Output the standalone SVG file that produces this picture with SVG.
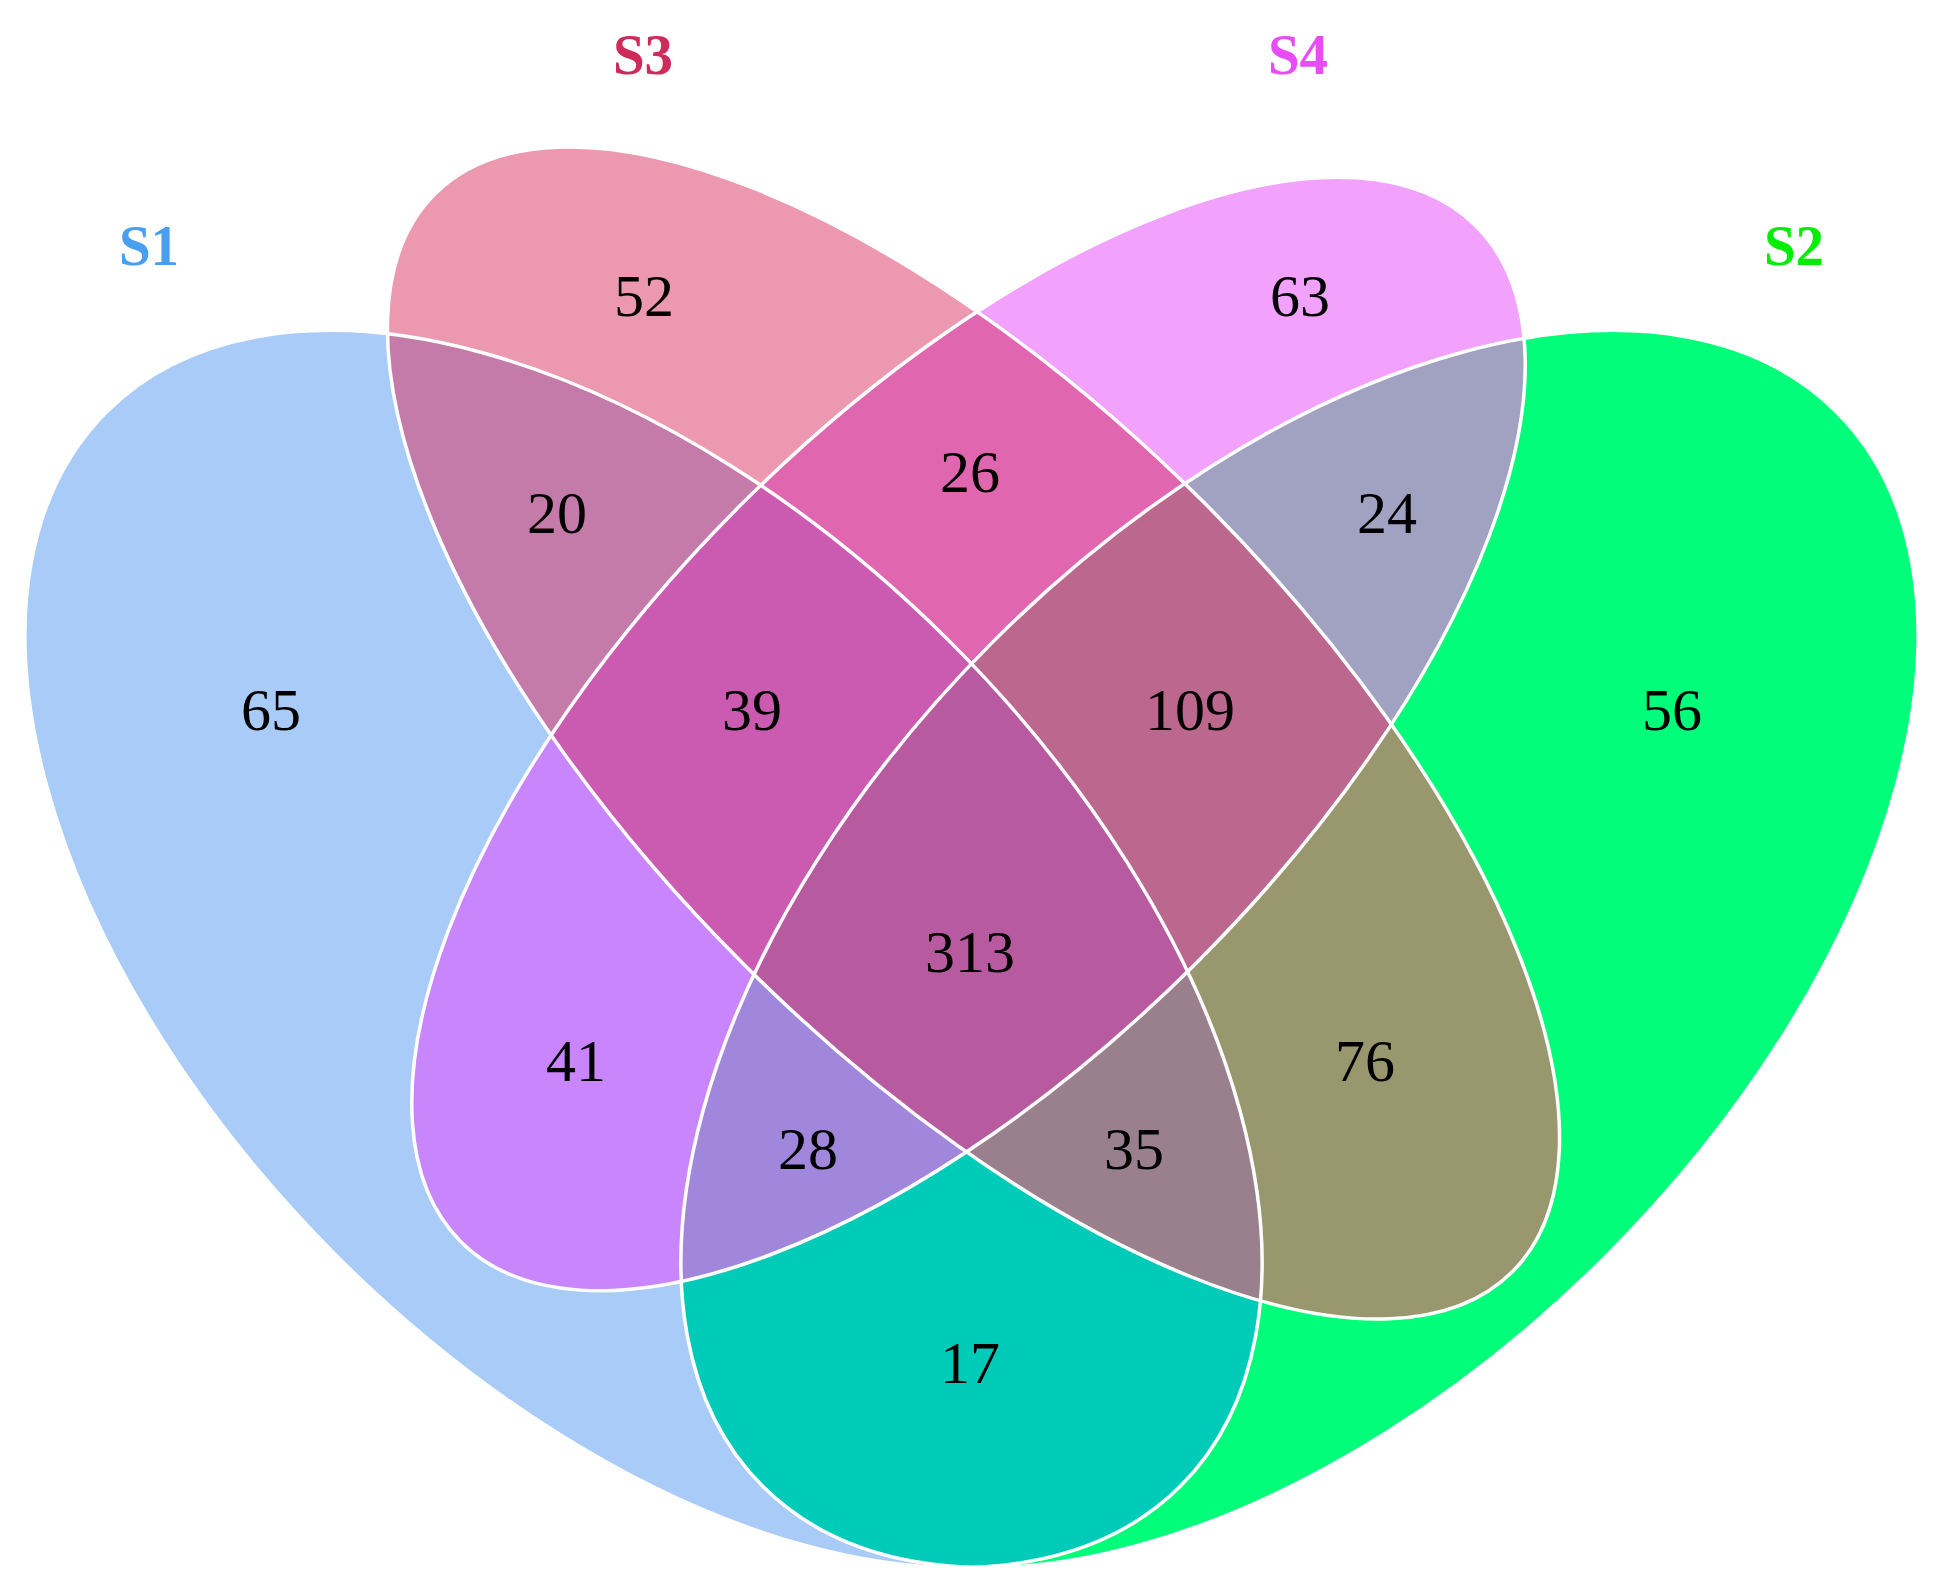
<svg xmlns="http://www.w3.org/2000/svg" xmlns:xlink="http://www.w3.org/1999/xlink" width="1938" height="1589" viewBox="0 0 1938 1589">
<style>
.num{font-family:"Liberation Serif","Times New Roman",serif;font-size:60px;fill:#000;text-anchor:middle}
.ttl{font-family:"Liberation Serif","Times New Roman",serif;font-size:57px;font-weight:bold;text-anchor:middle}
.edge{fill:none;stroke:#fff;stroke-width:3.5}
</style>
<defs>
<ellipse id="e1" cx="643.5" cy="949" rx="759.5" ry="434" transform="rotate(45 643.5 949)"/>
<ellipse id="e2" cx="1299.5" cy="949" rx="759.5" ry="434" transform="rotate(-45 1299.5 949)"/>
<ellipse id="e3" cx="973.5" cy="733" rx="762" ry="326" transform="rotate(45 973.5 733)"/>
<ellipse id="e4" cx="968.5" cy="734" rx="718" ry="323" transform="rotate(-45 968.5 734)"/>
<clipPath id="c1"><use xlink:href="#e1"/></clipPath>
<clipPath id="c2"><use xlink:href="#e2"/></clipPath>
<clipPath id="c3"><use xlink:href="#e3"/></clipPath>
<clipPath id="c4"><use xlink:href="#e4"/></clipPath>
</defs>
<rect width="1938" height="1589" fill="#fff"/>
<g id="regions">
<g id="r-S1"><use xlink:href="#e1" fill="#A9CBF7"/></g>
<g id="r-S2"><use xlink:href="#e2" fill="#00FE7A"/></g>
<g id="r-S3"><use xlink:href="#e3" fill="#EC98B0"/></g>
<g id="r-S4"><use xlink:href="#e4" fill="#F2A1FC"/></g>
<g id="r-S1S3" clip-path="url(#c3)"><use xlink:href="#e1" fill="#C47BAA"/></g>
<g id="r-S1S4" clip-path="url(#c4)"><use xlink:href="#e1" fill="#C986FC"/></g>
<g id="r-S1S2" clip-path="url(#c2)"><use xlink:href="#e1" fill="#00CBB9"/></g>
<g id="r-S3S4" clip-path="url(#c4)"><use xlink:href="#e3" fill="#E066B0"/></g>
<g id="r-S2S4" clip-path="url(#c4)"><use xlink:href="#e2" fill="#A1A1C1"/></g>
<g id="r-S2S3" clip-path="url(#c3)"><use xlink:href="#e2" fill="#99976E"/></g>
<g id="r-S1S3S4" clip-path="url(#c3)"><g clip-path="url(#c4)"><use xlink:href="#e1" fill="#CB5BB0"/></g></g>
<g id="r-S2S3S4" clip-path="url(#c3)"><g clip-path="url(#c4)"><use xlink:href="#e2" fill="#BC678E"/></g></g>
<g id="r-S1S2S4" clip-path="url(#c2)"><g clip-path="url(#c4)"><use xlink:href="#e1" fill="#A087DC"/></g></g>
<g id="r-S1S2S3" clip-path="url(#c2)"><g clip-path="url(#c3)"><use xlink:href="#e1" fill="#9A7F8C"/></g></g>
<g id="r-all" clip-path="url(#c2)"><g clip-path="url(#c3)"><g clip-path="url(#c4)"><use xlink:href="#e1" fill="#B75A9F"/></g></g></g>
</g>
<g id="outlines">
<use xlink:href="#e1" class="edge"/>
<use xlink:href="#e2" class="edge"/>
<use xlink:href="#e3" class="edge"/>
<use xlink:href="#e4" class="edge"/>
</g>
<g id="titles">
<text class="ttl" x="149" y="265" fill="#4A9EEF">S1</text>
<text class="ttl" x="643" y="74" fill="#CE2A5A">S3</text>
<text class="ttl" x="1298" y="74" fill="#E84CF5">S4</text>
<text class="ttl" x="1794" y="265" fill="#00EE00">S2</text>
</g>
<g id="counts">
<text class="num" x="644" y="316">52</text>
<text class="num" x="1300" y="316">63</text>
<text class="num" x="970" y="492">26</text>
<text class="num" x="557" y="533">20</text>
<text class="num" x="1387" y="533">24</text>
<text class="num" x="271" y="730">65</text>
<text class="num" x="752" y="730">39</text>
<text class="num" x="1190" y="730">109</text>
<text class="num" x="1672" y="730">56</text>
<text class="num" x="970" y="972">313</text>
<text class="num" x="576" y="1081">41</text>
<text class="num" x="1365" y="1081">76</text>
<text class="num" x="808" y="1169">28</text>
<text class="num" x="1134" y="1169">35</text>
<text class="num" x="970" y="1383">17</text>
</g>
</svg>
